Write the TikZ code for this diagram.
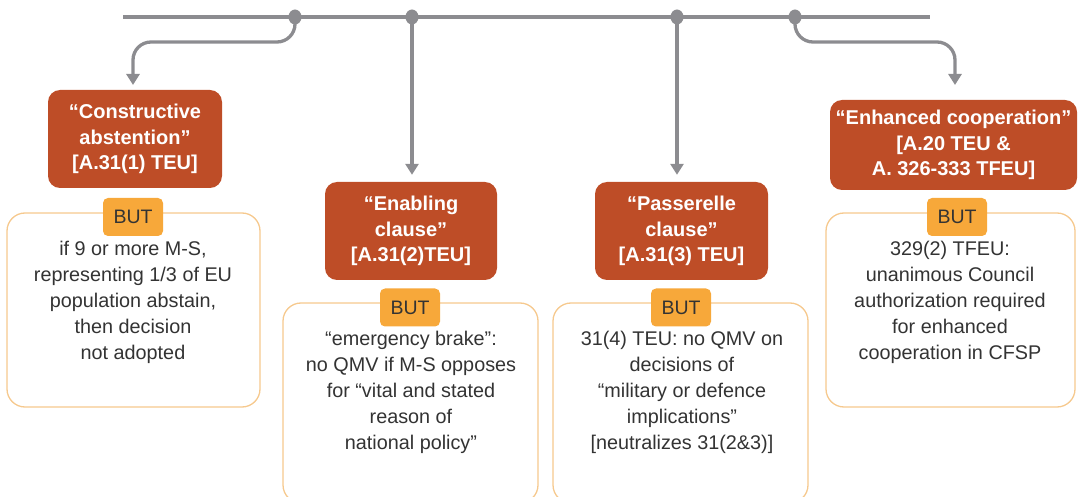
\documentclass[tikz,border=0pt]{standalone}
\usepackage{fontspec}
\setmainfont{Liberation Sans}
\usetikzlibrary{arrows.meta,shapes.geometric}
\definecolor{rust}{HTML}{BE4D27}
\definecolor{butor}{HTML}{F7A83A}
\definecolor{outl}{HTML}{F6C98E}
\definecolor{linegray}{HTML}{8C8C90}
\definecolor{txt}{HTML}{333333}
\begin{document}
\begin{tikzpicture}[x=1pt,y=-1pt,
  redbox/.style={fill=rust, rounded corners=12pt, text=white, align=center,
    font=\fontsize{20}{25.5}\selectfont\bfseries, inner sep=0pt},
  butbox/.style={fill=butor, rounded corners=5pt, text=txt, align=center,
    font=\fontsize{19.5}{24}\selectfont, inner sep=0pt, minimum width=60pt, minimum height=38pt},
  outbox/.style={draw=outl, line width=1.3pt, fill=white, rounded corners=18pt, inner sep=0pt},
  body/.style={text=txt, align=center, font=\fontsize{19.8}{26}\selectfont, inner sep=0pt},
  dot/.style={ellipse, fill=linegray, minimum width=13pt, minimum height=15pt, inner sep=0pt},
  conn/.style={draw=linegray, line width=3.3pt, -{Triangle[width=13pt,length=11pt]}},
  mainline/.style={draw=linegray, line width=4pt}]
\useasboundingbox (0,0) rectangle (1080,497);

% outline boxes
\node[outbox, minimum width=253pt, minimum height=194pt] (o1) at (133.5,310) {};
\node[outbox, minimum width=255pt, minimum height=200pt] (o2) at (410.5,403) {};
\node[outbox, minimum width=255pt, minimum height=200pt] (o3) at (680.5,403) {};
\node[outbox, minimum width=249pt, minimum height=194pt] (o4) at (950.5,310) {};

% red boxes
\node[redbox, minimum width=174pt, minimum height=98pt] (r1) at (135,139)
  {“Constructive\\abstention”\\{[}A.31(1) TEU{]}};
\node[redbox, minimum width=172pt, minimum height=98pt] (r2) at (411,231)
  {“Enabling\\clause”\\{[}A.31(2)TEU{]}};
\node[redbox, minimum width=173pt, minimum height=98pt] (r3) at (681.5,231)
  {“Passerelle\\clause”\\{[}A.31(3) TEU{]}};
\node[redbox, minimum width=247pt, minimum height=90pt] (r4) at (953.5,145)
  {“Enhanced cooperation”\\{[}A.20 TEU \&\\A. 326-333 TFEU{]}};

% BUT boxes
\node[butbox] (b1) at (133,217) {BUT};
\node[butbox] (b2) at (410,307.5) {BUT};
\node[butbox] (b3) at (681,307.5) {BUT};
\node[butbox] (b4) at (957,217) {BUT};

% body texts
\node[body] (t1) at (133,302)
  {if 9 or more M-S,\\representing 1/3 of EU\\population abstain,\\then decision\\not adopted};
\node[body] (t2) at (411,392)
  {“emergency brake”:\\no QMV if M-S opposes\\for “vital and stated\\reason of\\national policy”};
\node[body] (t3) at (682,392)
  {31(4) TEU: no QMV on\\decisions of\\“military or defence\\implications”\\{[}neutralizes 31(2\&3){]}};
\node[body] (t4) at (950,302)
  {329(2) TFEU:\\unanimous Council\\authorization required\\for enhanced\\cooperation in CFSP};

% dots and corners
\coordinate (d1) at (295,17);
\coordinate (d2) at (412,17);
\coordinate (d3) at (677,17);
\coordinate (d4) at (795,17);
\coordinate (k1) at (133,42);
\coordinate (k4) at (955,42);
\coordinate (e1) at (133,85);
\coordinate (e4) at (955,85);
\coordinate (la) at (123,17);
\coordinate (lb) at (930,17);

% connectors
\draw[conn, rounded corners=18pt] (d1) |- (k1) -- (e1);
\draw[conn, rounded corners=18pt] (d4) |- (k4) -- (e4);
\draw[conn, shorten >=7pt] (d2) -- (d2 |- r2.north);
\draw[conn, shorten >=7pt] (d3) -- (d3 |- r3.north);

% main line
\draw[mainline] (la) -- (lb);
\node[dot] (n1) at (d1) {};
\node[dot] (n2) at (d2) {};
\node[dot] (n3) at (d3) {};
\node[dot] (n4) at (d4) {};
\end{tikzpicture}
\end{document}
